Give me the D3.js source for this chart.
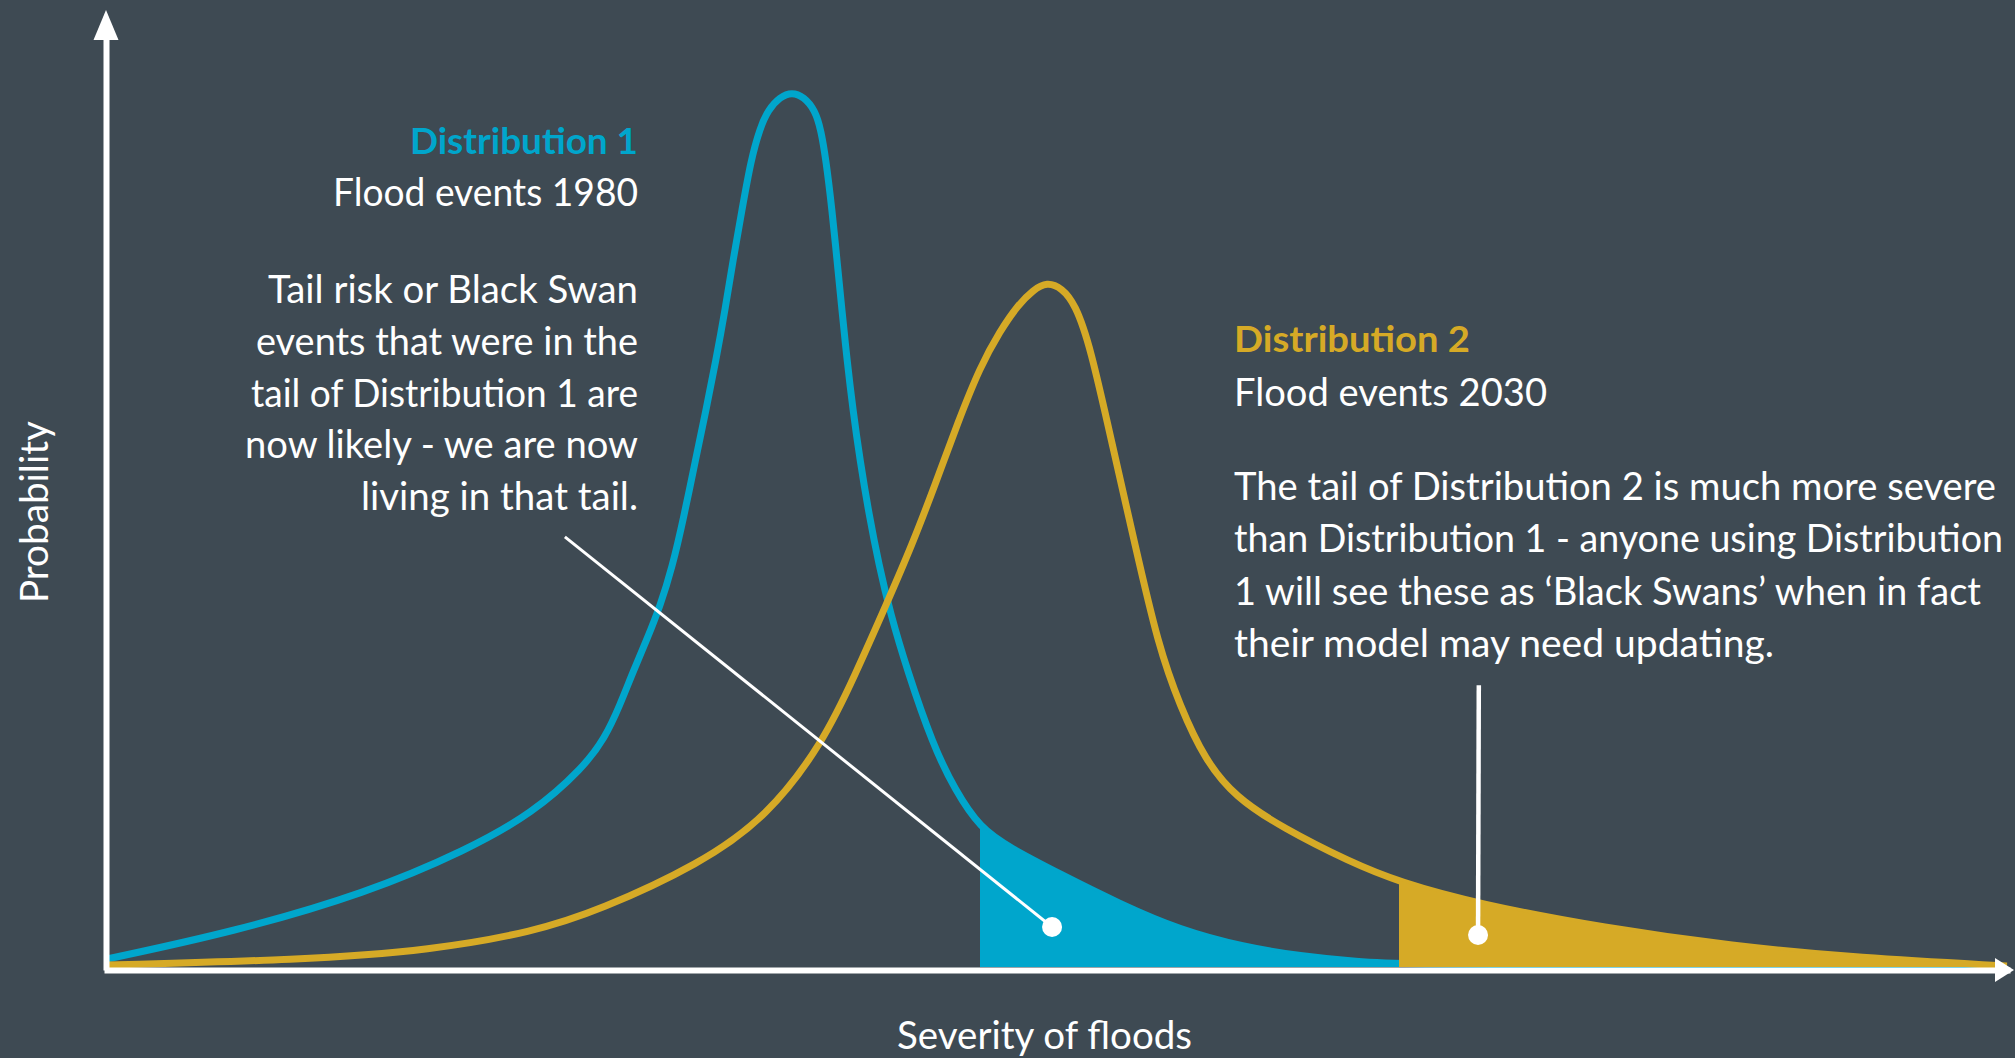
<!DOCTYPE html>
<html>
<head>
<meta charset="utf-8">
<script src="https://cdn.jsdelivr.net/npm/d3@7"></script>
<style>
  html, body { margin: 0; padding: 0; background: #3e4a53; overflow: hidden; }
  svg { display: block; }
</style>
</head>
<body>
<svg id="chart" width="2015" height="1058"></svg>
<script>
// ---------------- DATA ----------------
// Distribution 1 (Flood events 1980): severity vs probability
const severity1 = [0, 6.63, 13.68, 18.95, 22.42, 25.05, 26.21, 27.0, 27.68, 28.47, 29.11, 29.74, 30.37, 30.95, 31.53, 32.05, 32.53, 32.95, 33.42, 33.89, 34.37, 34.79, 35.42, 36.05, 36.68, 37.26, 37.58, 37.84, 38.16, 38.42, 38.68, 38.95, 39.26, 39.63, 40.11, 40.63, 41.21, 42.11, 43.47, 44.63, 45.95, 47.53, 50.16, 53.32, 56.47, 59.84, 62.79, 65.89, 68.0, 78.58, 100];
const probability1 = [0.89, 3.89, 8.22, 13.0, 17.11, 22.11, 25.44, 29.11, 32.78, 36.67, 40.11, 44.33, 50.11, 56.11, 61.89, 67.44, 73.0, 78.56, 84.11, 89.67, 93.22, 95.22, 96.67, 97.22, 96.67, 95.22, 93.0, 89.67, 84.11, 78.56, 73.0, 67.44, 61.89, 56.33, 50.22, 44.67, 39.44, 33.0, 24.67, 19.67, 15.44, 13.22, 10.33, 7.0, 4.11, 2.22, 1.22, 0.56, 0.33, 0.11, 0.06];

// Distribution 2 (Flood events 2030)
const severity2 = [0, 10.16, 17.16, 22.42, 25.95, 31.21, 34.74, 37.68, 39.37, 41.05, 42.37, 43.58, 44.79, 45.95, 47.0, 47.95, 48.74, 49.47, 50.26, 50.95, 51.74, 52.95, 54.11, 55.32, 56.47, 57.79, 59.37, 61.89, 65.42, 68.0, 72.16, 78.84, 85.53, 92.21, 100];
const probability2 = [0.22, 0.78, 1.89, 3.89, 6.33, 11.44, 16.67, 24.89, 32.44, 40.44, 46.89, 53.56, 60.56, 66.67, 70.67, 73.56, 75.22, 76.11, 75.44, 73.67, 69.11, 57.67, 46.89, 35.78, 29.0, 23.0, 18.89, 15.44, 11.67, 9.44, 7.0, 4.33, 2.33, 1.0, 0.11];

// shaded tails: [start severity, end severity]
const tail1 = [45.95, 68.0];
const tail2 = [68.0, 99.4];

// callout lines: [severity, probability] of start and end (dot)
const callout1 = [[24.1, 47.8], [49.74, 4.44]];
const callout2 = [[72.2, 31.3], [72.16, 3.56]];

// texts
const dist1Title = "Distribution 1";
const dist1Sub = "Flood events 1980";
const dist1Lines = ["Tail risk or Black Swan", "events that were in the", "tail of Distribution 1 are", "now likely - we are now", "living in that tail."];
const dist2Title = "Distribution 2";
const dist2Sub = "Flood events 2030";
const dist2Lines = ["The tail of Distribution 2 is much more severe", "than Distribution 1 - anyone using Distribution", "1 will see these as \u2018Black Swans\u2019 when in fact", "their model may need updating."];
const xAxisLabel = "Severity of floods";
const yAxisLabel = "Probability";

// ---------------- LAYOUT / STYLE ----------------
const W = 2015, H = 1058;
const BLUE = "#00a6cc", GOLD = "#d6aa26", WHITE = "#ffffff";
const FONT = "Lato, 'Open Sans', sans-serif";
const layout = {
  left: { x: 638, title: 154, sub: 206, first: 303, step: 51.8,
          titleW: 228, subW: 305, lineW: [370, 382, 387, 393, 277] },
  right: { x: 1234, title: 352, sub: 406, first: 500, step: 52.4,
           titleW: 236, subW: 313, lineW: [762, 769, 747, 540] },
  xLabel: { cx: 1044.5, y: 1049, w: 295 },
  yLabel: { x: 48, cy: 512, w: 182 }
};

const svg = d3.select("#chart");
svg.append("rect").attr("width", W).attr("height", H).attr("fill", "#3e4a53");

const x = d3.scaleLinear().domain([0, 100]).range([107, 2007]);
const y = d3.scaleLinear().domain([0, 103]).range([967, 40]);

const pts1 = severity1.map((s, i) => [s, probability1[i]]);
const pts2 = severity2.map((s, i) => [s, probability2[i]]);

const line = d3.line().x(d => x(d[0])).y(d => y(d[1])).curve(d3.curveBasis);
const area = d3.area().x(d => x(d[0])).y0(y(0)).y1(d => y(d[1])).curve(d3.curveBasis);

const defs = svg.append("defs");
function clip(id, range) {
  defs.append("clipPath").attr("id", id)
    .append("rect")
    .attr("x", x(range[0])).attr("y", 0)
    .attr("width", x(range[1]) - x(range[0]))
    .attr("height", y(0));
}
clip("clip1", tail1);
clip("clip2", tail2);

// curves
svg.append("path").datum(pts1).attr("d", line)
  .attr("fill", "none").attr("stroke", BLUE).attr("stroke-width", 7).attr("stroke-linejoin", "round");
svg.append("path").datum(pts2).attr("d", line)
  .attr("fill", "none").attr("stroke", GOLD).attr("stroke-width", 7).attr("stroke-linejoin", "round");

// shaded tails
svg.append("path").datum(pts1).attr("d", area).attr("fill", BLUE).attr("clip-path", "url(#clip1)");
svg.append("path").datum(pts2).attr("d", area).attr("fill", GOLD).attr("clip-path", "url(#clip2)");

// axes
const gx = svg.append("g").attr("transform", "translate(0,970)")
  .call(d3.axisBottom(x).tickValues([]).tickSizeOuter(0));
gx.select(".domain").attr("stroke", WHITE).attr("stroke-width", 6).attr("stroke-linecap", "square");
const gy = svg.append("g").attr("transform", "translate(106,0)")
  .call(d3.axisLeft(y).tickValues([]).tickSizeOuter(0));
gy.select(".domain").attr("stroke", WHITE).attr("stroke-width", 6).attr("stroke-linecap", "square");

// arrow heads
const xEnd = x.range()[1], yTop = y.range()[1];
svg.append("path")
  .attr("d", `M${xEnd - 12},${970 - 12}L${xEnd + 7},970L${xEnd - 12},${970 + 12}Z`)
  .attr("fill", WHITE);
svg.append("path")
  .attr("d", `M${106 - 12.5},${yTop}L106,${yTop - 30}L${106 + 12.5},${yTop}Z`)
  .attr("fill", WHITE);

// callouts
function callout(c, sw) {
  svg.append("line")
    .attr("x1", x(c[0][0])).attr("y1", y(c[0][1]))
    .attr("x2", x(c[1][0])).attr("y2", y(c[1][1]))
    .attr("stroke", WHITE).attr("stroke-width", sw);
  svg.append("circle").attr("cx", x(c[1][0])).attr("cy", y(c[1][1])).attr("r", 10).attr("fill", WHITE);
}
callout(callout1, 3);
callout(callout2, 4.5);

// text blocks
function txt(str, xx, yy, anchor, size, weight, color, w) {
  return svg.append("text").text(str)
    .attr("x", xx).attr("y", yy)
    .attr("text-anchor", anchor)
    .attr("font-family", FONT).attr("font-size", size).attr("font-weight", weight)
    .attr("fill", color)
    .attr("textLength", w).attr("lengthAdjust", "spacingAndGlyphs");
}
const L = layout.left, R = layout.right;
txt(dist1Title, L.x, L.title, "end", 36, 700, BLUE, L.titleW);
txt(dist1Sub, L.x, L.sub, "end", 38, 400, WHITE, L.subW);
dist1Lines.forEach((s, i) => txt(s, L.x, L.first + i * L.step, "end", 38, 400, WHITE, L.lineW[i]));

txt(dist2Title, R.x, R.title, "start", 36, 700, GOLD, R.titleW);
txt(dist2Sub, R.x, R.sub, "start", 38, 400, WHITE, R.subW);
dist2Lines.forEach((s, i) => txt(s, R.x, R.first + i * R.step, "start", 38, 400, WHITE, R.lineW[i]));

txt(xAxisLabel, layout.xLabel.cx, layout.xLabel.y, "middle", 38, 400, WHITE, layout.xLabel.w);
txt(yAxisLabel, 0, 0, "middle", 38, 400, WHITE, layout.yLabel.w)
  .attr("transform", `translate(${layout.yLabel.x},${layout.yLabel.cy}) rotate(-90)`);
</script>
</body>
</html>
